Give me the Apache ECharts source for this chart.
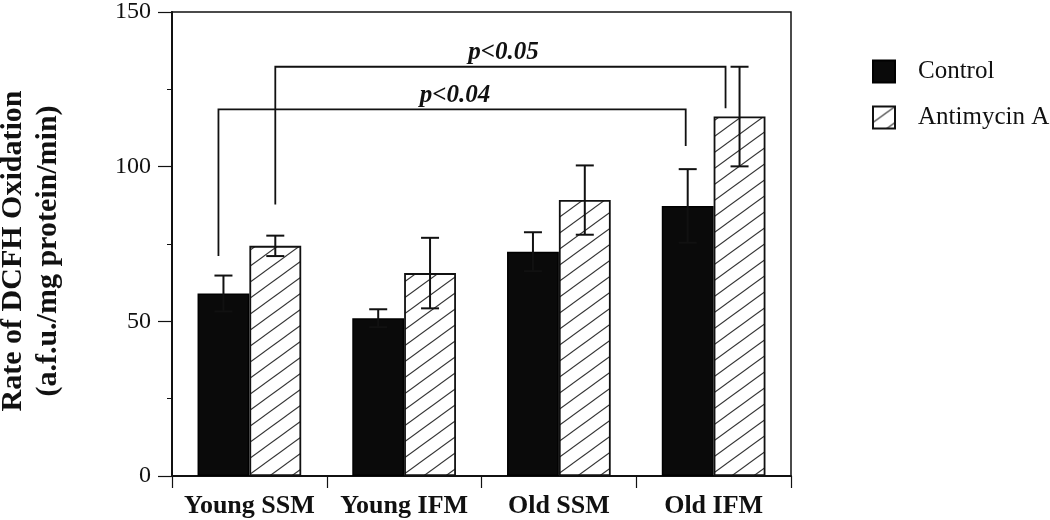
<!DOCTYPE html>
<html>
<head>
<meta charset="utf-8">
<script src="https://cdn.jsdelivr.net/npm/echarts@6/dist/echarts.min.js"></script>
<style>
html,body{margin:0;padding:0;background:#fff;}
#chart{width:1050px;height:520px;}
</style>
</head>
<body>
<div id="chart"></div>
<script>
// ---- data ----
const categories = ['Young SSM', 'Young IFM', 'Old SSM', 'Old IFM'];
const seriesNames = ['Control', 'Antimycin A'];
const controlValues = [59.0, 51.0, 72.5, 87.3];
const controlErrors = [5.8, 2.9, 6.3, 11.9];
const antimycinValues = [74.4, 65.6, 89.2, 116.2];
const antimycinErrors = [3.3, 11.4, 11.2, 16.1];
const yMin = 0, yMax = 150, yInterval = 50;
const yAxisTitle = 'Rate of DCFH Oxidation\n(a.f.u./mg protein/min)';
// significance brackets: categories/series joined, bracket top and leg ends (data units)
const bracketLabels = ['p<0.04', 'p<0.05'];
const bracketFromCat = [0, 0];
const bracketFromSeries = [0, 1];
const bracketToCat = [3, 3];
const bracketToSeries = [0, 1];
const bracketTop = [118.5, 132.3];
const bracketFromEnd = [71.1, 87.8];
const bracketToEnd = [106.7, 118.9];

// ---- styling ----
const FONT = '"Liberation Serif", "Times New Roman", serif';
const CAT_GAP = 0.33;
const legNudge = [[-5, -2], [0, -14]];

function makeHatch() {
  const w = 22, h = 16;
  const c = document.createElement('canvas');
  c.width = w; c.height = h;
  const ctx = c.getContext('2d');
  ctx.fillStyle = '#fff';
  ctx.fillRect(0, 0, w, h);
  ctx.strokeStyle = '#333';
  ctx.lineWidth = 1.1;
  const k = h / w;
  [0, -h, h].forEach(function (off) {
    ctx.beginPath();
    ctx.moveTo(-4, h + off + 4 * k);
    ctx.lineTo(w + 4, off - 4 * k);
    ctx.stroke();
  });
  return c;
}
const hatch = makeHatch();

const errData = [];
categories.forEach(function (c, i) {
  errData.push([i, controlValues[i], controlErrors[i], 0]);
  errData.push([i, antimycinValues[i], antimycinErrors[i], 1]);
});
const bracketData = bracketLabels.map(function (l, i) { return [bracketFromCat[i], bracketTop[i], i]; });

function barOffset(api, s) {
  const band = api.size([1, 0])[0];
  const half = band * (1 - CAT_GAP) / 4;
  return s === 0 ? -half : half;
}

const chart = echarts.init(document.getElementById('chart'), null, {renderer: 'canvas'});
const option = {
  backgroundColor: '#fff',
  animation: false,
  textStyle: {fontFamily: FONT, color: '#000'},
  grid: {left: 172, right: 259, top: 12, bottom: 44, show: true, borderColor: '#111', borderWidth: 1.5,
         backgroundColor: 'transparent', containLabel: false, outerBoundsMode: 'none'},
  legend: {
    orient: 'vertical', left: 867, top: 54,
    itemWidth: 22, itemHeight: 22, itemGap: 21,
    icon: 'rect',
    data: seriesNames,
    textStyle: {fontFamily: FONT, fontSize: 25, color: '#111', lineHeight: 25, padding: [0, 0, 0, 18]}
  },
  xAxis: {
    type: 'category', data: categories, boundaryGap: true,
    axisLine: {lineStyle: {color: '#111', width: 2}},
    axisTick: {show: true, length: 12, lineStyle: {color: '#111', width: 1.2}},
    axisLabel: {fontFamily: FONT, fontSize: 26, fontWeight: 'bold', color: '#111', margin: 17, interval: 0}
  },
  yAxis: {
    type: 'value', min: yMin, max: yMax, interval: yInterval,
    name: yAxisTitle, nameLocation: 'middle', nameRotate: 90, nameGap: 106,
    nameTextStyle: {fontFamily: FONT, fontSize: 30, fontWeight: 'bold', color: '#111', lineHeight: 35, padding: [0, 14, 0, 0]},
    axisLine: {show: true, lineStyle: {color: '#111', width: 2}},
    axisTick: {show: true, length: 14, lineStyle: {color: '#111', width: 1.2}},
    minorTick: {show: true, splitNumber: 2, length: 5, lineStyle: {color: '#111', width: 1}},
    splitLine: {show: false},
    axisLabel: {fontFamily: FONT, fontSize: 24, color: '#111', margin: 21}
  },
  series: [
    {
      name: seriesNames[0], type: 'bar', data: controlValues,
      barGap: '0%', barCategoryGap: (CAT_GAP * 100) + '%',
      itemStyle: {color: '#0a0a0a', borderColor: '#000', borderWidth: 1.5}
    },
    {
      name: seriesNames[1], type: 'bar', data: antimycinValues,
      itemStyle: {color: {image: hatch, repeat: 'repeat'}, borderColor: '#111', borderWidth: 1.8}
    },
    {
      type: 'custom', name: 'errors', z: 5, data: errData,
      renderItem: function (params, api) {
        const cat = api.value(0), v = api.value(1), e = api.value(2), s = api.value(3);
        const x = api.coord([cat, v])[0] + barOffset(api, s);
        const yHi = api.coord([cat, v + e])[1];
        const yLo = api.coord([cat, v - e])[1];
        const cap = 9;
        const st = {stroke: '#111', lineWidth: 2, fill: null};
        return {type: 'group', children: [
          {type: 'line', shape: {x1: x, y1: yHi, x2: x, y2: yLo}, style: st},
          {type: 'line', shape: {x1: x - cap, y1: yHi, x2: x + cap, y2: yHi}, style: st},
          {type: 'line', shape: {x1: x - cap, y1: yLo, x2: x + cap, y2: yLo}, style: st}
        ]};
      }
    },
    {
      type: 'custom', name: 'brackets', z: 6, data: bracketData,
      renderItem: function (params, api) {
        const i = api.value(2);
        const x1 = api.coord([bracketFromCat[i], 0])[0] + barOffset(api, bracketFromSeries[i]) + legNudge[i][0];
        const x2 = api.coord([bracketToCat[i], 0])[0] + barOffset(api, bracketToSeries[i]) + legNudge[i][1];
        const yT = api.coord([0, bracketTop[i]])[1];
        const y1 = api.coord([0, bracketFromEnd[i]])[1];
        const y2 = api.coord([0, bracketToEnd[i]])[1];
        return {type: 'group', children: [
          {type: 'polyline', shape: {points: [[x1, y1], [x1, yT], [x2, yT], [x2, y2]]},
           style: {stroke: '#111', lineWidth: 1.8, fill: null}},
          {type: 'text', style: {x: (x1 + x2) / 2 + 3, y: yT - 14, text: bracketLabels[i],
            font: 'italic bold 25px ' + FONT, fill: '#111', align: 'center', verticalAlign: 'middle'}}
        ]};
      }
    }
  ]
};
chart.setOption(option);
</script>
</body>
</html>
